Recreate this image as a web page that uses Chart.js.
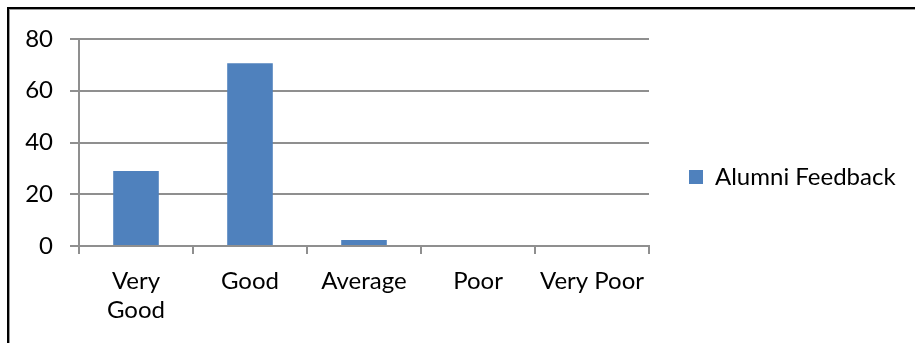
<!DOCTYPE html>
<html>
<head>
<meta charset="utf-8">
<script src="https://cdn.jsdelivr.net/npm/chart.js@4/dist/chart.umd.min.js"></script>
<style>
  html, body { margin: 0; padding: 0; background: #fff; }
  #wrap { position: relative; width: 915px; height: 343px; overflow: hidden; }
  #frame { position: absolute; left: 7px; top: 7px; width: 960px; height: 400px;
           border-left: 2px solid #000; border-top: 2px solid #000;
           box-shadow: inset 1px 1px 0 #9a9a9a; pointer-events: none; }
  canvas { position: absolute; left: 0; top: 0; }
</style>
</head>
<body>
<div id="wrap">
  <canvas id="c" width="915" height="343"></canvas>
  <div id="frame"></div>
</div>
<script>
const categories = [['Very', 'Good'], 'Good', 'Average', 'Poor', 'Very Poor'];
const seriesName = 'Alumni Feedback';
const seriesValues = [29, 70.6, 2.3, 0, 0];
const yTicks = [0, 20, 40, 60, 80];

const GRID = '#8f8f8f';
const BAR = '#4f81bd';

Chart.defaults.font.family = 'Lato, "Open Sans", sans-serif';
Chart.defaults.font.size = 24;
Chart.defaults.color = '#000';

const layoutFix = {
  id: 'layoutFix',
  beforeLayout(chart) {
    const lg = chart.legend;
    if (lg && !lg._fitPatched) {
      const origFit = lg.fit;
      lg.fit = function () {
        origFit.apply(this, arguments);
        this.width = 266;
      };
      lg._fitPatched = true;
    }
  },
  afterLayout(chart) {
    if (chart.legend) {
      chart.legend.top = 11;
      chart.legend.bottom = 343;
      chart.legend.height = 332;
    }
  }
};

new Chart(document.getElementById('c'), {
  type: 'bar',
  data: {
    labels: categories,
    datasets: [{
      label: seriesName,
      data: seriesValues,
      backgroundColor: BAR,
      borderWidth: 0,
      barPercentage: 0.4,
      categoryPercentage: 1.0
    }]
  },
  options: {
    responsive: false,
    animation: false,
    layout: { padding: { top: 39, left: 0, right: 0, bottom: 0 } },
    plugins: {
      tooltip: { enabled: false },
      legend: {
        position: 'right',
        labels: {
          boxWidth: 14,
          boxHeight: 14,
          padding: 40,
          font: { size: 24 },
          color: '#000'
        }
      }
    },
    scales: {
      x: {
        offset: true,
        afterFit(s) { s.height = 97; },
        grid: {
          offset: true,
          drawOnChartArea: false,
          drawTicks: true,
          tickLength: 8,
          color: GRID,
          lineWidth: 2
        },
        border: { display: true, color: GRID, width: 2 },
        ticks: {
          padding: 13,
          maxRotation: 0,
          autoSkip: false,
          font: { size: 24, lineHeight: 1.2 },
          color: '#000'
        }
      },
      y: {
        min: 0,
        max: 80,
        afterFit(s) { s.width = 79; },
        afterBuildTicks(s) { s.ticks = yTicks.map(v => ({ value: v })); },
        grid: {
          drawTicks: true,
          tickLength: 9,
          color: GRID,
          lineWidth: 2
        },
        border: { display: true, color: GRID, width: 2 },
        ticks: {
          padding: 17,
          font: { size: 24 },
          color: '#000'
        }
      }
    }
  },
  plugins: [layoutFix]
});
</script>
</body>
</html>
